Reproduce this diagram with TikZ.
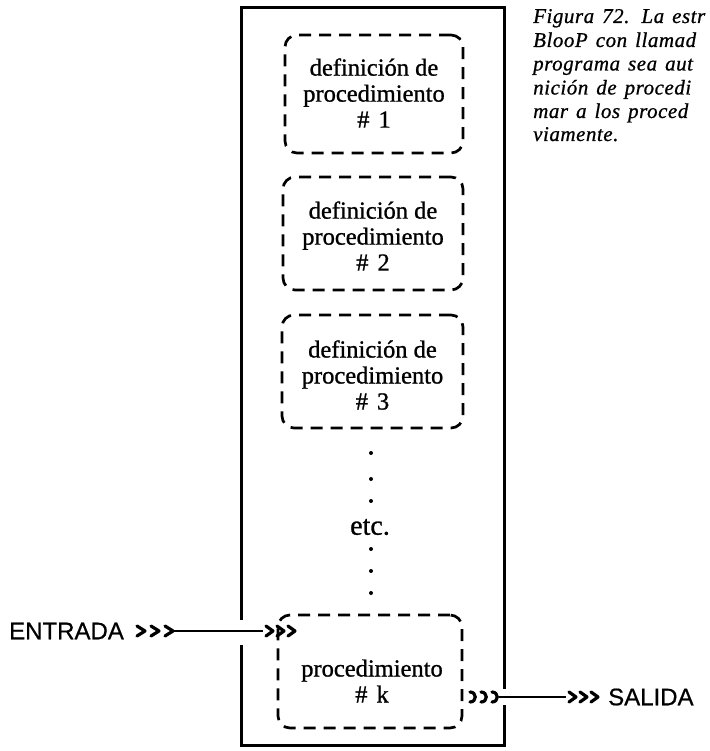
\documentclass[tikz,border=0pt]{standalone}
\usepackage{fontspec}
\setmainfont{Liberation Serif}[FakeBold=1]
\newfontfamily\capf{Liberation Serif}[LetterSpace=2.5,FakeBold=0.8]
\newfontfamily\sansf{Liberation Sans}[FakeBold=0.6]
\begin{document}
\begin{tikzpicture}[x=1pt,y=-1pt,
  dbox/.style={draw, line width=2.7pt, dash pattern=on 12pt off 8pt, rounded corners=12pt, inner sep=0pt},
  outerline/.style={line width=3pt, line cap=rect},
  boxtext/.style={align=center, font=\fontsize{24.5}{26}\selectfont, inner sep=0pt},
  captext/.style={anchor=base west, inner sep=0pt, font=\capf\fontsize{21}{23.5}\selectfont\itshape,
    execute at begin node={\spaceskip=8pt\relax}},
  iotext/.style={anchor=west, inner sep=0pt, font=\sansf\fontsize{24}{26}\selectfont},
  chevron/.style={line width=3.2pt, line cap=round, line join=round},
  conn/.style={line width=2pt},
  dotmark/.style={circle, fill, inner sep=0pt, minimum size=4pt}
]
\useasboundingbox (0,0) rectangle (709,751);
\clip (0,0) rectangle (709,751);

% outer frame with gaps for the connectors
\draw[outerline] (241,618) -- (241,8) -- (504,8) -- (504,687);
\draw[outerline] (504,706) -- (504,745) -- (241,745) -- (241,646);

% dashed procedure boxes
\node[dbox, minimum width=178pt, minimum height=118pt] (d1) at (374,94) {};
\node[dbox, minimum width=180pt, minimum height=113pt] (d2) at (373,233.5) {};
\node[dbox, minimum width=181pt, minimum height=113pt] (d3) at (372.5,371.5) {};
\node[dbox, minimum width=184pt, minimum height=113pt] (dk) at (370,671.5) {};

\node[boxtext] (t1) at (374,93) {definición de\\procedimiento\\\#\hspace{9pt}1};
\node[boxtext] (t2) at (373,236) {definición de\\procedimiento\\\#\hspace{9pt}2};
\node[boxtext] (t3) at (372.5,375) {definición de\\procedimiento\\\#\hspace{9pt}3};
\node[boxtext] (tk) at (372,681) {procedimiento\\\#\hspace{9pt}k};

% dots and etc.
\foreach \yy in {453,479,501,549,571,593} \node[dotmark] at (371,\yy) {};
\node[boxtext, font=\fontsize{28}{30}\selectfont] (etc) at (370,527) {etc.};

% caption (cut at the right edge)
\node[captext] (c1) at (533,23) {Figura 72.\hspace{12pt}La estr};
\node[captext] (c2) at (533,47) {BlooP con llamad};
\node[captext] (c3) at (533,70.5) {programa sea aut};
\node[captext] (c4) at (533,94.5) {nición de procedi};
\node[captext] (c5) at (533,118) {mar a los proced};
\node[captext] (c6) at (533,141) {viamente.};

% entrance
\node[iotext] (entrada) at (9,631) {ENTRADA};
\foreach \i in {0,14,28} \draw[chevron] (137+\i,626) -- (145+\i,631) -- (137+\i,636);
\coordinate (ein) at (174,631);
\coordinate (eout) at (263,631);
\draw[conn] (ein) -- (eout);
\foreach \i in {0,11,22} \draw[chevron] (266+\i,626) -- (273+\i,631) -- (266+\i,636);

% exit
\foreach \i in {0,11,22} \draw[chevron] (470+\i,692) .. controls (477+\i,692) and (477+\i,702) .. (470+\i,702);
\coordinate (xin) at (499,697);
\coordinate (xout) at (566,697);
\draw[conn] (xin) -- (xout);
\foreach \i in {0,11,22} \draw[chevron] (569+\i,692) -- (576+\i,697) -- (569+\i,702);
\node[iotext] (salida) at (608,697) {SALIDA};
\end{tikzpicture}
\end{document}
